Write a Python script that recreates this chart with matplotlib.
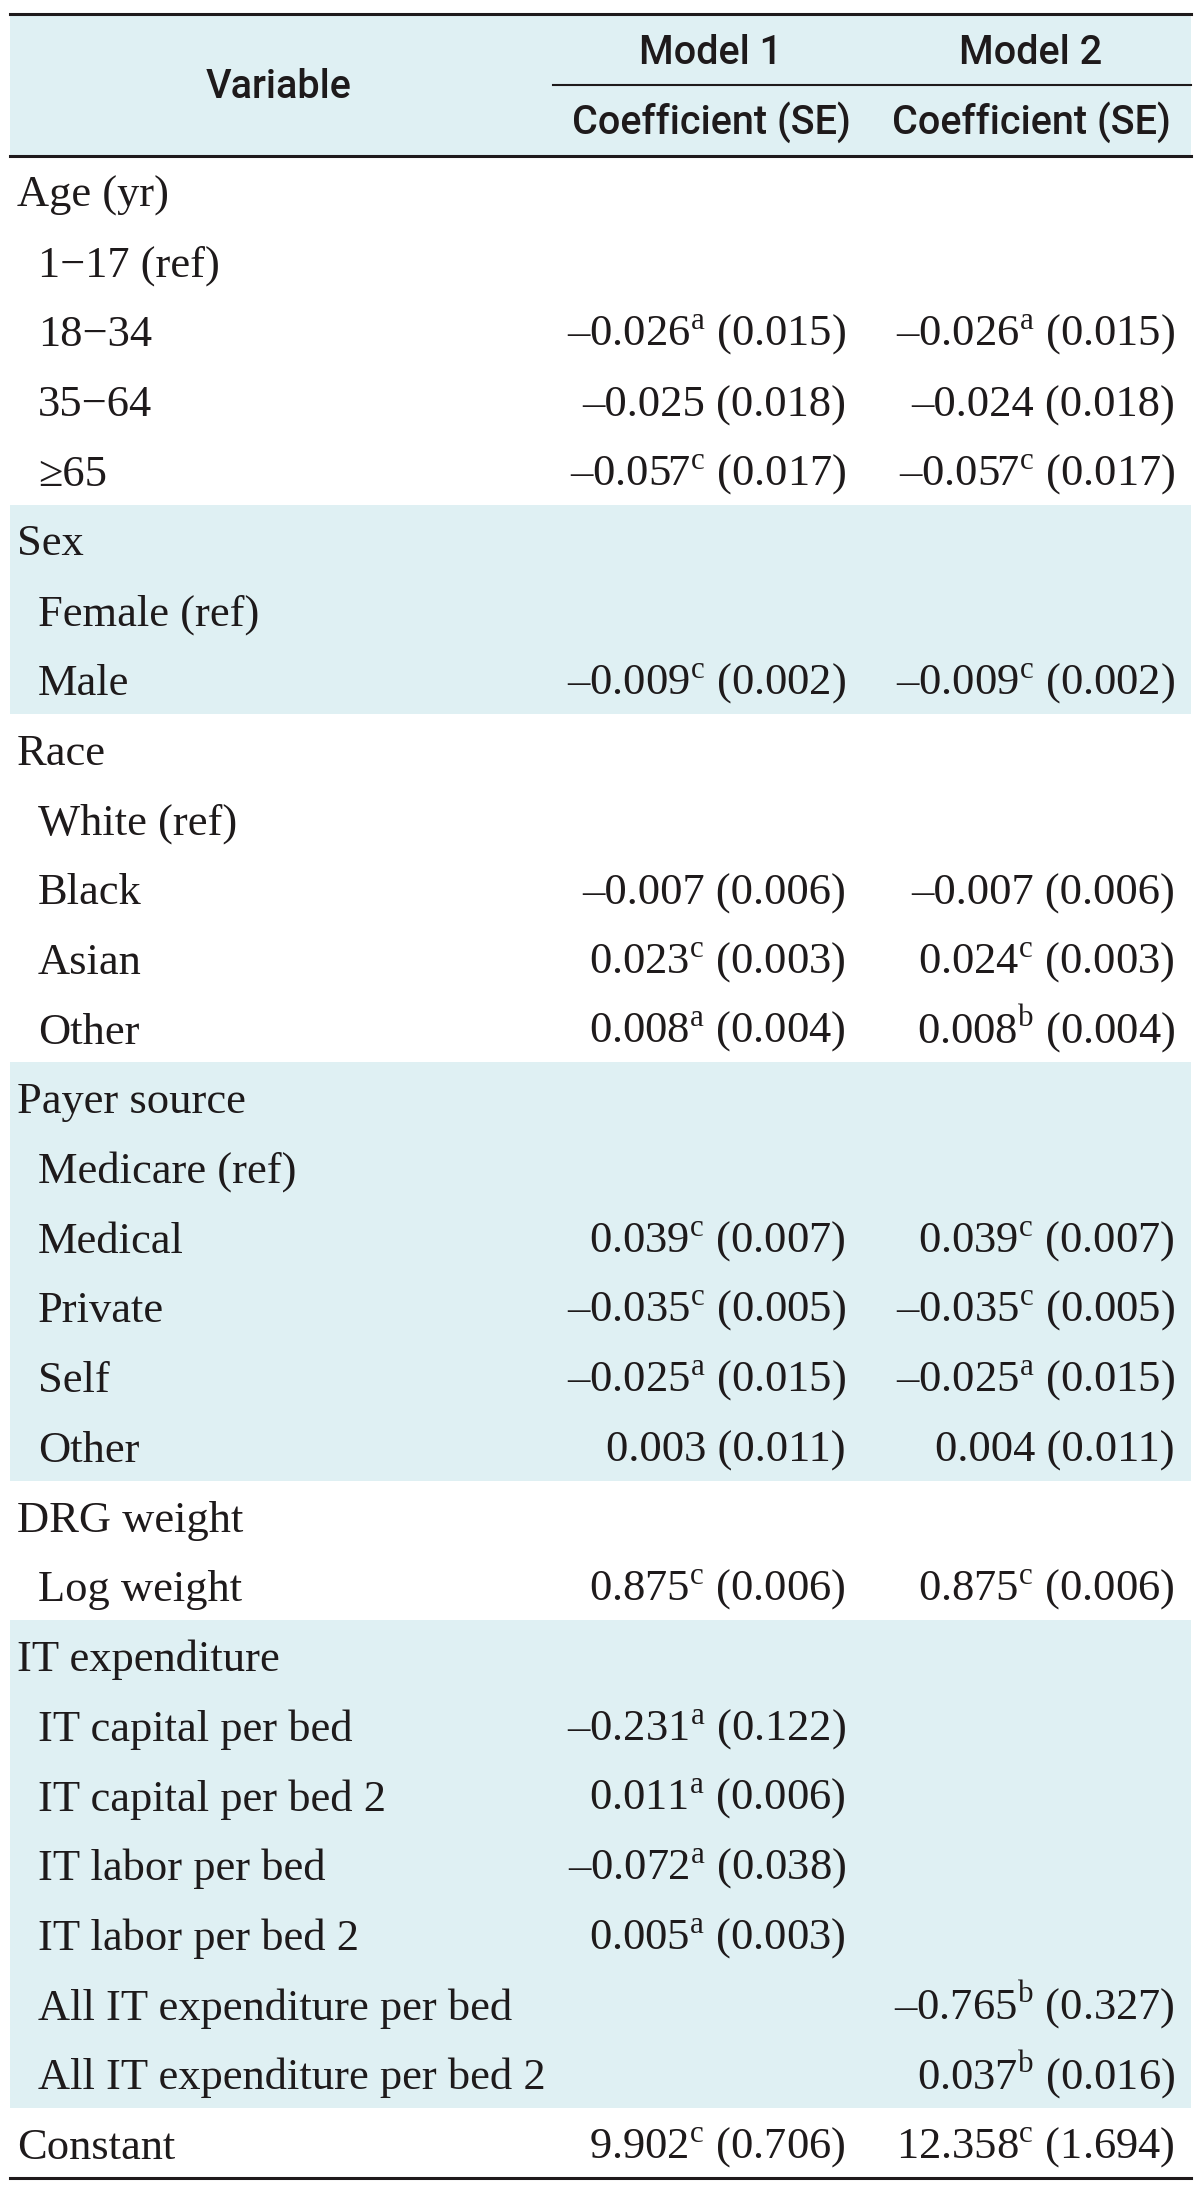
import matplotlib
matplotlib.use("Agg")
import matplotlib.pyplot as plt
from matplotlib.patches import Rectangle

plt.rcParams['mathtext.fontset'] = 'custom'
plt.rcParams['mathtext.rm'] = 'Liberation Serif'

# table content
variables = ["Age (yr)", "1−17 (ref)", "18−34", "35−64", "≥65",
             "Sex", "Female (ref)", "Male",
             "Race", "White (ref)", "Black", "Asian", "Other",
             "Payer source", "Medicare (ref)", "Medical", "Private", "Self", "Other",
             "DRG weight", "Log weight",
             "IT expenditure", "IT capital per bed", "IT capital per bed 2",
             "IT labor per bed", "IT labor per bed 2",
             "All IT expenditure per bed", "All IT expenditure per bed 2",
             "Constant"]
indented = [0, 1, 1, 1, 1,
            0, 1, 1,
            0, 1, 1, 1, 1,
            0, 1, 1, 1, 1, 1,
            0, 1,
            0, 1, 1, 1, 1, 1, 1,
            0]
model1 = ["", "", "–0.026$^{\\rm a}$ (0.015)", "–0.025 (0.018)", "–0.057$^{\\rm c}$ (0.017)",
          "", "", "–0.009$^{\\rm c}$ (0.002)",
          "", "", "–0.007 (0.006)", "0.023$^{\\rm c}$ (0.003)", "0.008$^{\\rm a}$ (0.004)",
          "", "", "0.039$^{\\rm c}$ (0.007)", "–0.035$^{\\rm c}$ (0.005)", "–0.025$^{\\rm a}$ (0.015)", "0.003 (0.011)",
          "", "0.875$^{\\rm c}$ (0.006)",
          "", "–0.231$^{\\rm a}$ (0.122)", "0.011$^{\\rm a}$ (0.006)",
          "–0.072$^{\\rm a}$ (0.038)", "0.005$^{\\rm a}$ (0.003)", "", "",
          "9.902$^{\\rm c}$ (0.706)"]
model2 = ["", "", "–0.026$^{\\rm a}$ (0.015)", "–0.024 (0.018)", "–0.057$^{\\rm c}$ (0.017)",
          "", "", "–0.009$^{\\rm c}$ (0.002)",
          "", "", "–0.007 (0.006)", "0.024$^{\\rm c}$ (0.003)", "0.008$^{\\rm b}$ (0.004)",
          "", "", "0.039$^{\\rm c}$ (0.007)", "–0.035$^{\\rm c}$ (0.005)", "–0.025$^{\\rm a}$ (0.015)", "0.004 (0.011)",
          "", "0.875$^{\\rm c}$ (0.006)",
          "", "", "", "", "",
          "–0.765$^{\\rm b}$ (0.327)", "0.037$^{\\rm b}$ (0.016)",
          "12.358$^{\\rm c}$ (1.694)"]
# groups with shaded background (first row, last row)
shaded_groups = [(5, 7), (13, 18), (21, 27)]

W, H = 1200, 2185
fig = plt.figure(figsize=(W / 100, H / 100), dpi=100)
ax = fig.add_axes([0, 0, 1, 1])
ax.set_xlim(0, W)
ax.set_ylim(H, 0)
ax.axis('off')

shade = '#dff0f3'
ink = '#1e1a1b'
serif = 'Liberation Serif'
head_font = 'Roboto'
left, right = 10, 1191
head_top, head_mid, head_bot, tab_bot = 14, 85, 156, 2178
row_h = (tab_bot - head_bot) / len(variables)

# header
ax.add_patch(Rectangle((left, head_top), right - left, head_bot - head_top, color=shade, lw=0))
for y0, y1 in shaded_groups:
    ax.add_patch(Rectangle((left, head_bot + y0 * row_h), right - left, (y1 - y0 + 1) * row_h,
                           color=shade, lw=0))

ax.plot([left, right], [head_top, head_top], color=ink, lw=2.2)
ax.plot([553, right], [head_mid, head_mid], color=ink, lw=1.5)
ax.plot([left, right], [head_bot, head_bot], color=ink, lw=2.2)
ax.plot([left, right], [tab_bot, tab_bot], color=ink, lw=2.2)

hs = 28.5
ax.text(279, 87, "Variable", ha='center', va='center', fontsize=hs, family=head_font,
        weight='medium', color=ink)
for cx, name in [(711, "Model 1"), (1031, "Model 2")]:
    ax.text(cx, 53, name, ha='center', va='center', fontsize=hs, family=head_font,
            weight='medium', color=ink)
    ax.text(cx, 122, "Coefficient (SE)", ha='center', va='center', fontsize=hs,
            family=head_font, weight='medium', color=ink)

fs = 32
for i, var in enumerate(variables):
    yb = head_bot + (i + 0.5) * row_h + 16
    x = 38 if indented[i] else 17
    ax.text(x, yb, var, ha='left', va='baseline', fontsize=fs, family=serif, color=ink)
    if model1[i]:
        ax.text(846, yb, model1[i], ha='right', va='baseline', fontsize=fs, family=serif, color=ink)
    if model2[i]:
        ax.text(1175, yb, model2[i], ha='right', va='baseline', fontsize=fs, family=serif, color=ink)

fig.savefig('out.png', dpi=100)
